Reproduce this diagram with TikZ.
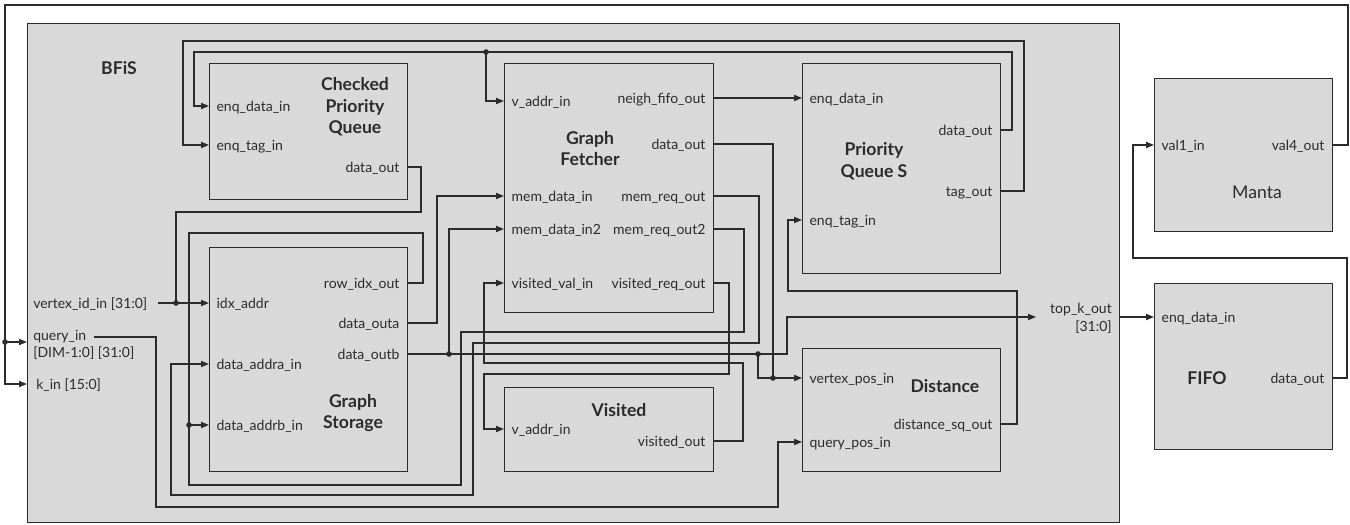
\documentclass[tikz,border=0pt]{standalone}
\usepackage{fontspec}
\setmainfont{Lato}
\usetikzlibrary{arrows.meta}
\definecolor{boxfill}{HTML}{D9D9D9}
\definecolor{ink}{HTML}{2B2B2B}

% input port: coordinate on the left edge plus its label
\newcommand\inport[4]{\coordinate (#1) at (#2,#3);
  \node[inl] (#1-t) at (#2,#3) {#4};}
% output port: coordinate on the right edge plus its label
\newcommand\outport[4]{\coordinate (#1) at (#2,#3);
  \node[outl] (#1-t) at (#2,#3) {#4};}

\begin{document}
\begin{tikzpicture}[x=0.75pt,y=-0.75pt,
  wire/.style={draw=ink, line width=1.1pt},
  arr/.style={wire, -{Triangle[length=6pt,width=4.6pt]}},
  blk/.style={draw=ink, fill=boxfill, line width=1.1pt, inner sep=0pt, anchor=north west},
  lbl/.style={font=\fontsize{10.5}{12}\selectfont, text=ink, inner sep=0pt},
  inl/.style={lbl, anchor=base west, xshift=5.5pt, yshift=-4pt},
  outl/.style={lbl, anchor=base east, xshift=-5.5pt, yshift=-4pt},
  freel/.style={lbl, yshift=-4pt},
  ttl/.style={font=\fontsize{13.2}{16.2}\selectfont\bfseries, text=ink, align=center, inner sep=0pt},
  jdot/.style={circle, fill=ink, inner sep=0pt, minimum size=4.2pt}
]
\useasboundingbox (0,0) rectangle (1350,525);

% ---------------- blocks ----------------
\node[blk, minimum width=819pt, minimum height=374.25pt] (bfis) at (27,23) {};
\node[ttl] (bfis-name) at (119,68) {BFiS};

\node[blk, minimum width=148.5pt, minimum height=102pt] (cpq) at (209,63) {};
\node[ttl] (cpq-name) at (355,107) {Checked\\Priority\\Queue};

\node[blk, minimum width=148.5pt, minimum height=168pt] (gs) at (209,247) {};
\node[ttl] (gs-name) at (353,413) {Graph\\Storage};

\node[blk, minimum width=156.75pt, minimum height=186.75pt] (gf) at (504,63) {};
\node[ttl] (gf-name) at (590,148.5) {Graph\\Fetcher};

\node[blk, minimum width=156.75pt, minimum height=63pt] (vis) at (504,387) {};
\node[ttl] (vis-name) at (619,410) {Visited};

\node[blk, minimum width=148.5pt, minimum height=157.5pt] (pqs) at (802,63) {};
\node[ttl] (pqs-name) at (874,161) {Priority\\Queue S};

\node[blk, minimum width=148.5pt, minimum height=92.25pt] (dist) at (802,348) {};
\node[ttl] (dist-name) at (945,386) {Distance};

\node[blk, minimum width=133.5pt, minimum height=114.75pt] (manta) at (1154,78) {};
\node[ttl, font=\fontsize{13.2}{16.2}\selectfont] (manta-name) at (1257,192) {Manta};

\node[blk, minimum width=133.5pt, minimum height=124.5pt] (fifo) at (1154,283) {};
\node[ttl] (fifo-name) at (1207,378) {FIFO};

% ---------------- ports ----------------
\inport{cpq-edi}{209}{106}{enq\_data\_in}
\inport{cpq-eti}{209}{145}{enq\_tag\_in}
\outport{cpq-dout}{407}{167}{data\_out}

\inport{gs-idx}{209}{303}{idx\_addr}
\inport{gs-daa}{209}{364}{data\_addra\_in}
\inport{gs-dab}{209}{425}{data\_addrb\_in}
\outport{gs-row}{407}{283}{row\_idx\_out}
\outport{gs-da}{407}{323}{data\_outa}
\outport{gs-db}{407}{354}{data\_outb}

\inport{gf-vaddr}{504}{101}{v\_addr\_in}
\inport{gf-mdi}{504}{196}{mem\_data\_in}
\inport{gf-mdi2}{504}{229}{mem\_data\_in2}
\inport{gf-vvi}{504}{283}{visited\_val\_in}
\outport{gf-nfo}{713}{98}{neigh\_fifo\_out}
\outport{gf-dout}{713}{144}{data\_out}
\outport{gf-mro}{713}{196}{mem\_req\_out}
\outport{gf-mro2}{713}{229}{mem\_req\_out2}
\outport{gf-vro}{713}{283}{visited\_req\_out}

\inport{vis-vai}{504}{429}{v\_addr\_in}
\outport{vis-vo}{713}{441}{visited\_out}

\inport{pqs-edi}{802}{98}{enq\_data\_in}
\inport{pqs-eti}{802}{220}{enq\_tag\_in}
\outport{pqs-dout}{1000}{130}{data\_out}
\outport{pqs-tag}{1000}{191}{tag\_out}

\inport{dist-vpi}{802}{378}{vertex\_pos\_in}
\inport{dist-qpi}{802}{442}{query\_pos\_in}
\outport{dist-dso}{1000}{424}{distance\_sq\_out}

\inport{manta-v1}{1154}{145}{val1\_in}
\outport{manta-v4}{1332}{145}{val4\_out}

\inport{fifo-edi}{1154}{317}{enq\_data\_in}
\outport{fifo-dout}{1332}{378}{data\_out}

% top-level ports of BFiS
\node[freel, anchor=base west] (vin-t) at (33,303) {vertex\_id\_in [31:0]};
\node[freel, anchor=base west] (qin-t) at (33,335) {query\_in};
\node[freel, anchor=base west] (qin-t2) at (33,352) {[DIM-1:0] [31:0]};
\node[freel, anchor=base west] (kin-t) at (36,384) {k\_in [15:0]};
\node[freel, anchor=base east] (topk-t) at (1112,308) {top\_k\_out};
\node[freel, anchor=base east] (topk-t2) at (1112,326) {[31:0]};
\coordinate (vin-o) at (158,303);
\coordinate (qin-o) at (94,337);
\coordinate (bfis-qin) at (27,342);
\coordinate (bfis-kin) at (27,384);
\coordinate (topk-in) at (1036,317);
\coordinate (bfis-topk) at (1119,317);

% ---------------- junctions ----------------
\node[jdot] (j1) at (486,52) {};
\node[jdot] (j2) at (176,303) {};
\node[jdot] (j3) at (189,425) {};
\node[jdot] (j4) at (449,354) {};
\node[jdot] (j5) at (758,354) {};
\node[jdot] (j6) at (773,378) {};
\node[jdot] (j7) at (5,342) {};

% ---------------- wires ----------------
% priority queue outputs feed back into the checked queue and fetcher
\draw[arr] (pqs-dout) -| (1012,52) -| (194,106) -- (cpq-edi);
\draw[arr] (j1.center) |- (gf-vaddr);
\draw[arr] (pqs-tag) -| (1024,41) -| (183,145) -- (cpq-eti);
\draw[arr] (gf-nfo) -- (pqs-edi);

% vertex index into graph storage
\draw[wire] (cpq-dout) -| (421,212) -| (j2.center);
\draw[arr] (vin-o) -- (gs-idx);

% storage address loops
\draw[wire] (gf-mro2) -| (744,332) -| (461,485) -| (189,233) -| (423,283) -- (gs-row);
\draw[arr] (j3.center) -- (gs-dab);
\draw[arr] (gf-mro) -| (759,343) -| (473,495) -| (171,364) -- (gs-daa);

% storage data into fetcher
\draw[arr] (gs-da) -| (437,196) -- (gf-mdi);
\draw[wire] (gs-db) -- (j5.center);
\draw[arr] (j4.center) |- (gf-mdi2);
\draw[arr] (j5.center) -| (787,317) -- (topk-in);
\draw[arr] (j5.center) |- (dist-vpi);
\draw[wire] (gf-dout) -| (j6.center);

% visited table
\draw[arr] (gf-vro) -| (729,374) -| (484,429) -- (vis-vai);
\draw[arr] (vis-vo) -| (743,363) -| (484,283) -- (gf-vvi);

% query and distance
\draw[arr] (qin-o) -| (156,507) -| (778,442) -- (dist-qpi);
\draw[arr] (dist-dso) -| (1017,291) -| (788,220) -- (pqs-eti);

% outside BFiS
\draw[arr] (bfis-topk) -- (fifo-edi);
\draw[arr] (fifo-dout) -| (1347,258) -| (1133,145) -- (manta-v1);
\draw[arr] (manta-v4) -| (1348,5) -| (5,384) -- (bfis-kin);
\draw[arr] (j7.center) -- (bfis-qin);
\end{tikzpicture}
\end{document}
